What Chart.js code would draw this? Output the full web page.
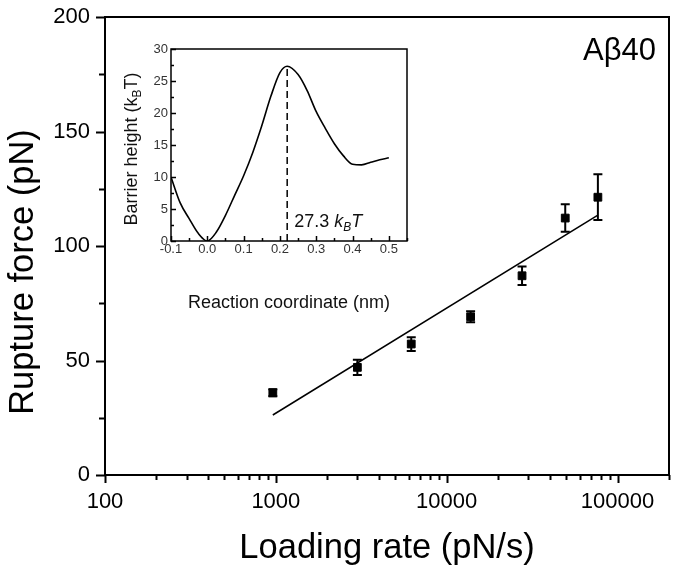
<!DOCTYPE html>
<html>
<head>
<meta charset="utf-8">
<script src="https://cdn.jsdelivr.net/npm/chart.js@4"></script>
<style>
  html, body { margin: 0; padding: 0; background: #fff; }
  #wrap { position: relative; width: 677px; height: 571px; }
  #main { position: absolute; left: 0; top: 0; }
  #inset { position: absolute; left: 110px; top: 30px; }
</style>
</head>
<body>
<div id="wrap">
  <canvas id="main" width="677" height="571"></canvas>
  <canvas id="inset" width="300" height="285"></canvas>
</div>
<script>
// main plot: rupture force vs loading rate
const loadingRate = [960, 3000, 6200, 13800, 27600, 49400, 76700];
const ruptureForce = [35.9, 47, 57.2, 69.1, 87, 112.2, 121.3];
const forceError = [1.5, 3.3, 3, 2.4, 4, 6, 10];
const fitRate = [960, 76700];
const fitForce = [26.2, 113.5];
const xTickLabels = [100, 1000, 10000, 100000];

// inset: barrier profile
const coord = [-0.1, -0.075, -0.05, -0.025, 0, 0.025, 0.05, 0.075, 0.1, 0.125, 0.15, 0.175, 0.2, 0.22,
               0.25, 0.275, 0.3, 0.325, 0.35, 0.375, 0.4, 0.425, 0.45, 0.475, 0.5];
const barrier = [10, 6.0, 3.5, 1.2, 0, 1.4, 4.0, 7.1, 10.2, 13.8, 18.0, 22.6, 26.3, 27.3,
                 26, 23.5, 20.2, 17.6, 15.2, 13.3, 12.0, 11.9, 12.3, 12.7, 13.0];
const peakCoord = 0.22;
const peakHeight = 27.3;

const FONT = "'Liberation Sans', Arial, sans-serif";

// frame + tick marks (dir 1 = outward, -1 = inward)
function frameTicks(lw, dir, majX, minX, majY, minY, isMajorX, isMajorY) {
    return {
        id: 'frameTicks',
        afterDraw(chart) {
            const { ctx, chartArea: a, scales: { x, y } } = chart;
            ctx.save();
            ctx.strokeStyle = '#000';
            ctx.lineWidth = lw;
            ctx.strokeRect(a.left, a.top, a.right - a.left, a.bottom - a.top);
            ctx.beginPath();
            x.ticks.forEach(t => {
                const px = Math.round(x.getPixelForValue(t.value)) + 0.5;
                const len = isMajorX(t.value) ? majX : minX;
                ctx.moveTo(px, a.bottom);
                ctx.lineTo(px, a.bottom + dir * len);
            });
            y.ticks.forEach(t => {
                const py = Math.round(y.getPixelForValue(t.value)) + 0.5;
                const len = isMajorY(t.value) ? majY : minY;
                ctx.moveTo(a.left, py);
                ctx.lineTo(a.left - dir * len, py);
            });
            ctx.stroke();
            ctx.restore();
        }
    };
}

// keep axis boxes fixed, no extra label padding
const fixBox = (w, h) => s => {
    if (w != null) s.width = w;
    if (h != null) s.height = h;
    s.paddingLeft = s.paddingRight = s.paddingTop = s.paddingBottom = 0;
};

// ---------- main chart ----------
const logTicks = [];
for (let p = 100; p <= 100000; p *= 10) {
    for (let m = 1; m <= 9; m++) if (m * p <= 200000) logTicks.push(m * p);
}
logTicks.push(200000);

const errorBars = {
    id: 'errorBars',
    afterDatasetsDraw(chart) {
        const { ctx, scales: { x, y } } = chart;
        ctx.save();
        ctx.strokeStyle = '#000';
        ctx.lineWidth = 2;
        ctx.beginPath();
        loadingRate.forEach((r, i) => {
            const px = x.getPixelForValue(r);
            const top = y.getPixelForValue(ruptureForce[i] + forceError[i]);
            const bot = y.getPixelForValue(ruptureForce[i] - forceError[i]);
            ctx.moveTo(px, top); ctx.lineTo(px, bot);
            ctx.moveTo(px - 4.5, top); ctx.lineTo(px + 4.5, top);
            ctx.moveTo(px - 4.5, bot); ctx.lineTo(px + 4.5, bot);
        });
        ctx.stroke();
        ctx.restore();
    }
};

const mainText = {
    id: 'mainText',
    afterDraw(chart) {
        const ctx = chart.ctx;
        ctx.save();
        ctx.fillStyle = '#000';
        ctx.font = '34.5px ' + FONT;
        ctx.textAlign = 'center';
        ctx.textBaseline = 'alphabetic';
        ctx.fillText('Loading rate (pN/s)', 387, 558);
        ctx.save();
        ctx.translate(33, 272);
        ctx.rotate(-Math.PI / 2);
        ctx.fillText('Rupture force (pN)', 0, 0);
        ctx.restore();
        ctx.font = '31px ' + FONT;
        ctx.textAlign = 'right';
        ctx.fillText('A\u03b240', 656, 60);
        ctx.restore();
    }
};

new Chart(document.getElementById('main'), {
    type: 'scatter',
    data: {
        datasets: [{
            label: 'data',
            data: loadingRate.map((r, i) => ({ x: r, y: ruptureForce[i] })),
            pointStyle: 'rect',
            pointRadius: 5.5,
            backgroundColor: '#000',
            borderColor: '#000'
        }, {
            type: 'line',
            label: 'fit',
            data: fitRate.map((r, i) => ({ x: r, y: fitForce[i] })),
            borderColor: '#000',
            borderWidth: 1.5,
            pointRadius: 0,
            fill: false
        }]
    },
    options: {
        responsive: false,
        animation: false,
        layout: { padding: { top: 17, right: 8, left: 0, bottom: 0 } },
        plugins: { legend: { display: false }, tooltip: { enabled: false } },
        scales: {
            x: {
                type: 'logarithmic',
                min: 100, max: 200000,
                afterBuildTicks: s => { s.ticks = logTicks.map(v => ({ value: v })); },
                afterFit: fixBox(null, 96),
                grid: { display: false, drawTicks: false },
                border: { display: false },
                ticks: {
                    autoSkip: false, maxRotation: 0, padding: 14,
                    color: '#000', font: { family: FONT, size: 22 },
                    callback: v => xTickLabels.includes(v) ? String(v) : ''
                }
            },
            y: {
                min: 0, max: 200,
                afterFit: fixBox(105, null),
                grid: { display: false, drawTicks: false },
                border: { display: false },
                ticks: {
                    stepSize: 25, autoSkip: false, padding: 15,
                    color: '#000', font: { family: FONT, size: 22 },
                    callback: v => v % 50 === 0 ? String(v) : ''
                }
            }
        }
    },
    plugins: [errorBars, mainText,
        frameTicks(2, 1, 8, 5, 9, 6, v => xTickLabels.includes(v), v => v % 50 === 0)]
});

// ---------- inset ----------
const insetXTicks = [];
for (let i = -2; i <= 11; i++) insetXTicks.push(Math.round(i * 5) / 100);

function drawRich(ctx, parts, x, y) {
    let cx = x;
    parts.forEach(p => {
        ctx.font = p.font;
        ctx.fillText(p.t, cx, y + (p.dy || 0));
        cx += ctx.measureText(p.t).width;
    });
}
function richWidth(ctx, parts) {
    let w = 0;
    parts.forEach(p => { ctx.font = p.font; w += ctx.measureText(p.t).width; });
    return w;
}

const insetText = {
    id: 'insetText',
    afterDraw(chart) {
        const ctx = chart.ctx;
        const a = chart.chartArea;
        ctx.save();
        ctx.fillStyle = '#111';
        ctx.textBaseline = 'alphabetic';
        ctx.textAlign = 'left';
        // x title
        ctx.font = '18px ' + FONT;
        const xt = 'Reaction coordinate (nm)';
        ctx.fillText(xt, (a.left + a.right) / 2 - ctx.measureText(xt).width / 2, 278);
        // y title with subscript
        const yParts = [
            { t: 'Barrier height (k', font: '18px ' + FONT },
            { t: 'B', font: '12px ' + FONT, dy: 4 },
            { t: 'T)', font: '18px ' + FONT }
        ];
        ctx.save();
        ctx.translate(27, 119);
        ctx.rotate(-Math.PI / 2);
        drawRich(ctx, yParts, -richWidth(ctx, yParts) / 2, 0);
        ctx.restore();
        // barrier annotation
        const x0 = chart.scales.x.getPixelForValue(peakCoord) + 7;
        drawRich(ctx, [
            { t: '27.3 ', font: '18px ' + FONT },
            { t: 'k', font: 'italic 18px ' + FONT },
            { t: 'B', font: 'italic 12px ' + FONT, dy: 4 },
            { t: 'T', font: 'italic 18px ' + FONT }
        ], x0, 197);
        ctx.restore();
    }
};

new Chart(document.getElementById('inset'), {
    type: 'line',
    data: {
        datasets: [{
            label: 'barrier',
            data: coord.map((c, i) => ({ x: c, y: barrier[i] })),
            borderColor: '#000',
            borderWidth: 1.6,
            pointRadius: 0,
            cubicInterpolationMode: 'monotone',
            fill: false
        }, {
            label: 'peak',
            data: [{ x: peakCoord, y: 0 }, { x: peakCoord, y: peakHeight }],
            borderColor: '#000',
            borderWidth: 1.5,
            borderDash: [7, 4],
            pointRadius: 0,
            fill: false
        }]
    },
    options: {
        responsive: false,
        animation: false,
        layout: { padding: { top: 19, right: 3, left: 0, bottom: 0 } },
        plugins: { legend: { display: false }, tooltip: { enabled: false } },
        scales: {
            x: {
                type: 'linear',
                min: -0.1, max: 0.55,
                afterBuildTicks: s => { s.ticks = insetXTicks.map(v => ({ value: v })); },
                afterFit: fixBox(null, 74),
                grid: { display: false, drawTicks: false },
                border: { display: false },
                ticks: {
                    autoSkip: false, maxRotation: 0, padding: 1,
                    color: '#333', font: { family: FONT, size: 13 },
                    callback: v => (Math.round(v * 100) % 10 === 0 && v <= 0.5) ? v.toFixed(1) : ''
                }
            },
            y: {
                min: 0, max: 30,
                afterFit: fixBox(61, null),
                grid: { display: false, drawTicks: false },
                border: { display: false },
                ticks: {
                    stepSize: 2.5, autoSkip: false, padding: 3,
                    color: '#333', font: { family: FONT, size: 13 },
                    callback: v => v % 5 === 0 ? String(v) : ''
                }
            }
        }
    },
    plugins: [insetText,
        frameTicks(1.5, -1, 5, 3, 5, 3, v => Math.round(v * 100) % 10 === 0, v => v % 5 === 0)]
});
</script>
</body>
</html>
